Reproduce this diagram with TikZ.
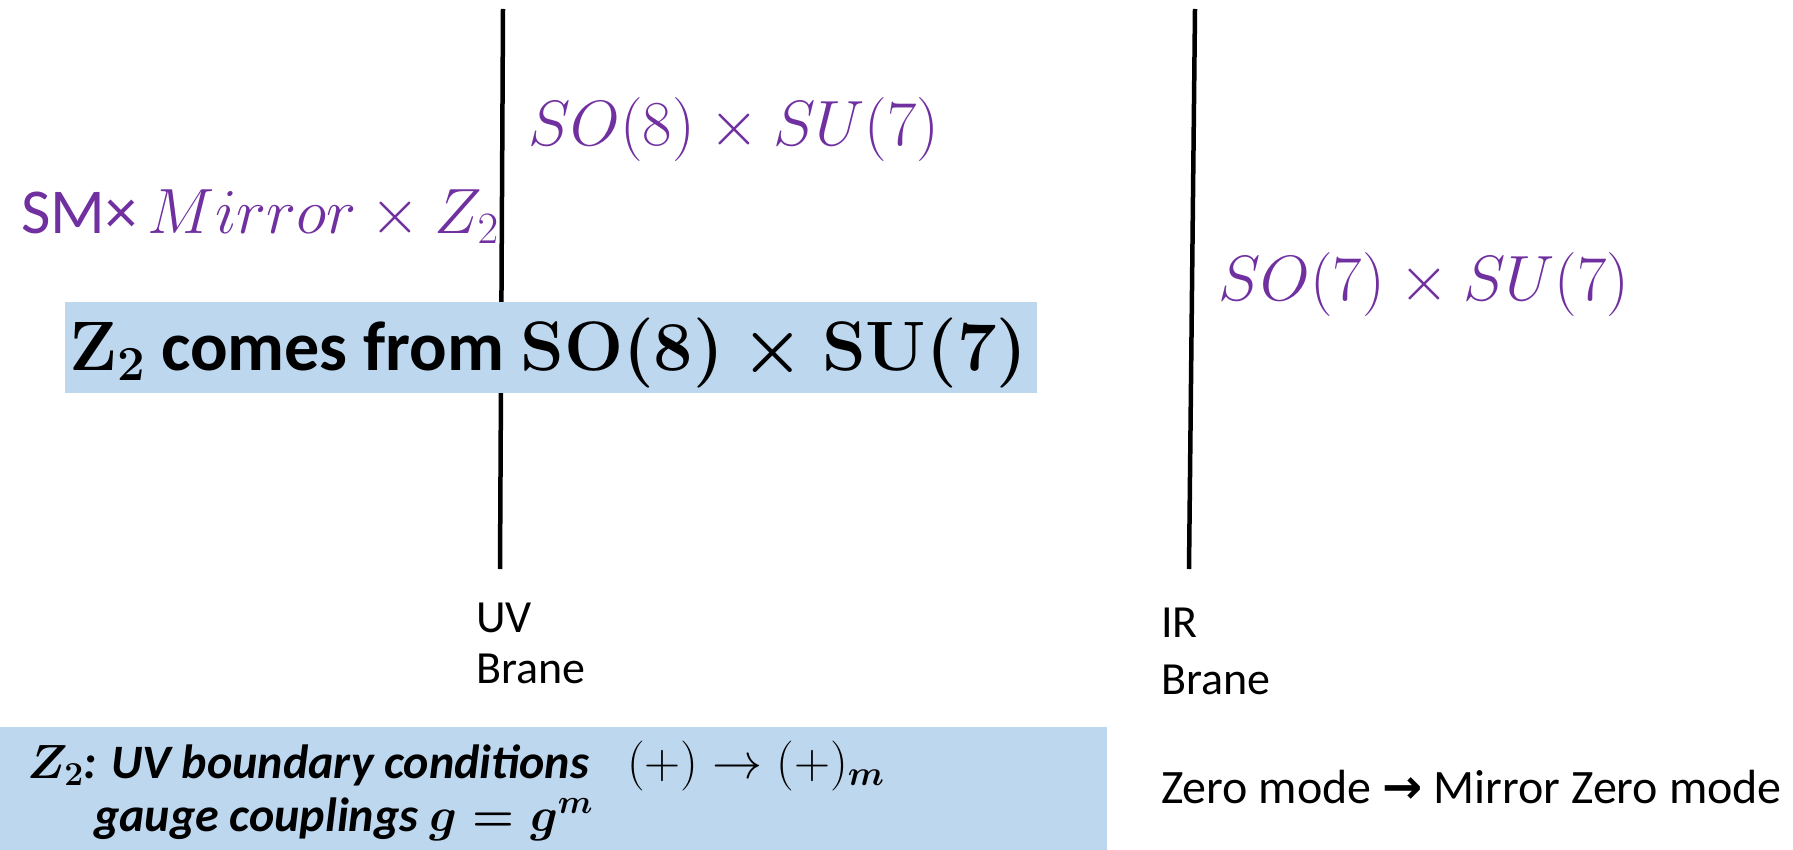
\RequirePackage{fix-cm}
\documentclass[tikz,border=0pt]{standalone}
\usepackage{bm}
\usepackage[no-math]{fontspec}
\setmainfont{Carlito}
\newfontfamily\arrowfont{DejaVu Sans}
\definecolor{pptpurple}{HTML}{7030A0}
\definecolor{pptblue}{HTML}{BDD7EE}
\begin{document}
\begin{tikzpicture}[x=1pt,y=-1pt,
  brane/.style={line width=4.5pt, black},
  lbl/.style={inner sep=0pt, anchor=base west, font=\fontsize{46}{55}\selectfont},
  grp/.style={inner sep=0pt, anchor=base west, text=pptpurple, font=\fontsize{64}{72}\selectfont},
  bluebox/.style={fill=pptblue, draw=none, inner sep=0pt, anchor=north west},
  boxtxt/.style={inner sep=0pt, anchor=base west, font=\fontsize{48}{56}\selectfont}]
\useasboundingbox (0,0) rectangle (1793,850);
% branes
\coordinate (uvtop) at (503,9);
\coordinate (uvbot) at (500,569);
\coordinate (irtop) at (1195,9);
\coordinate (irbot) at (1189,569);
\draw[brane] (uvtop) -- (uvbot);
\draw[brane] (irtop) -- (irbot);
% groups
\node[grp] (so8) at (528,146) {$SO(8)\times SU(7)$};
\node[grp] (sm) at (21,234) {SM×\,$Mirror\times Z_2$};
\node[grp] (so7) at (1218,300) {$SO(7)\times SU(7)$};
% central box
\node[bluebox, minimum width=972pt, minimum height=91pt] (box1) at (65,302) {};
\node[inner sep=0pt, anchor=base west, font=\bfseries\fontsize{70}{80}\selectfont] (z2txt) at (69,370)
  {{\boldmath$\mathbf{Z}_2$} comes from {\boldmath$\mathbf{SO(8)}\times\mathbf{SU(7)}$}};
% brane labels
\node[lbl] (uv) at (476,632) {UV};
\node[lbl] (uvbrane) at (476,683) {Brane};
\node[lbl] (ir) at (1161,637) {IR};
\node[lbl] (irbrane) at (1161,694) {Brane};
% bottom box
\node[bluebox, minimum width=1107pt, minimum height=123pt] (box2) at (0,727) {};
\node[boxtxt] (bc) at (27,778) {{\boldmath$Z_2$}\textbf{\textit{: UV boundary conditions}}};
\node[boxtxt, font=\fontsize{50}{58}\selectfont] (bcmath) at (627,778) {$(+)\rightarrow(+)_{\bm{m}}$};
\node[boxtxt] (gc) at (94,831) {\textbf{\textit{gauge couplings }}{\boldmath$g=g^m$}};
% zero mode
\node[lbl, font=\fontsize{48}{56}\selectfont] (zm) at (1161,803) {Zero mode {\arrowfont\bfseries →} Mirror Zero mode};
\end{tikzpicture}
\end{document}
